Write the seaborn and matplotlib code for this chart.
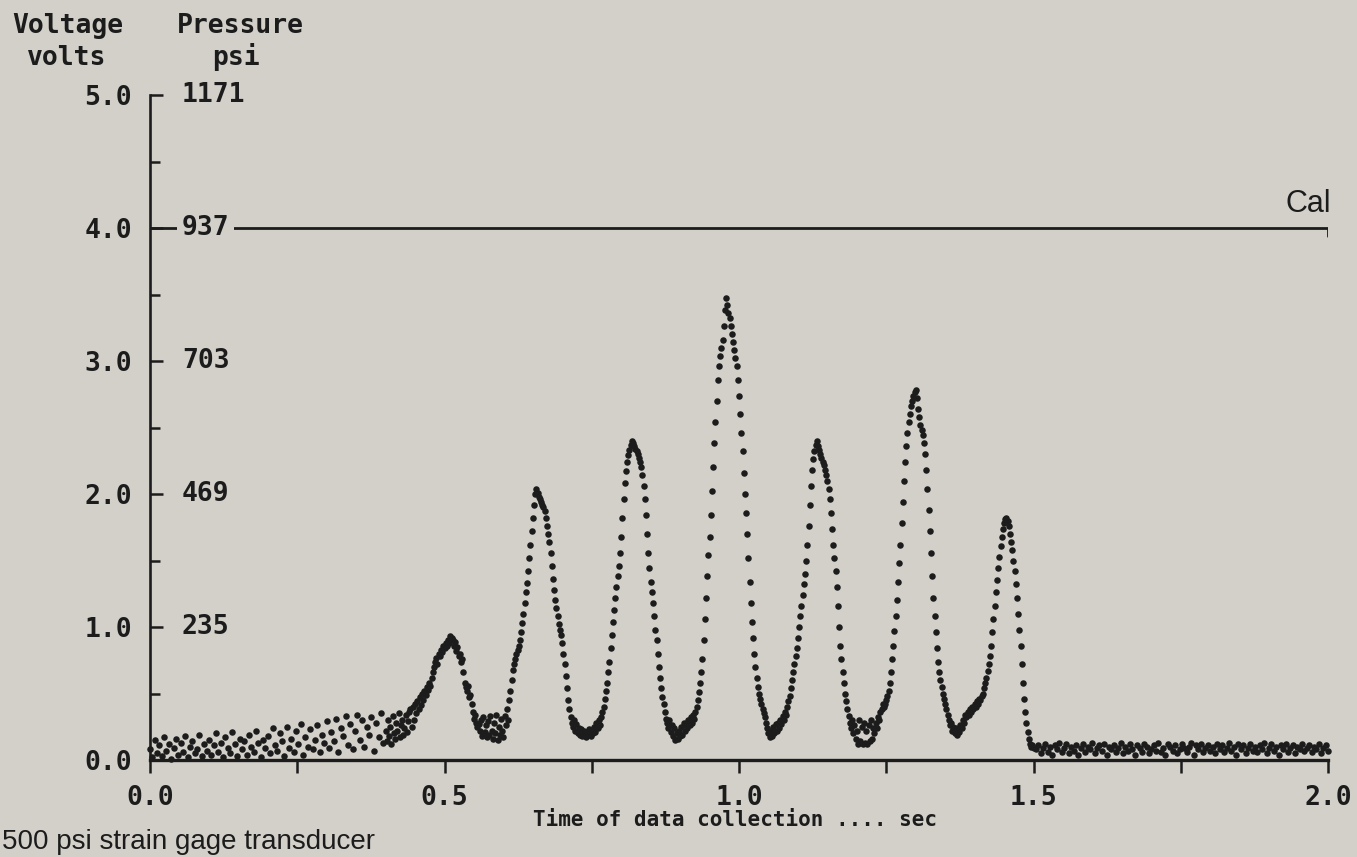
import numpy as np
import pandas as pd
import matplotlib
matplotlib.use("Agg")
import matplotlib.pyplot as plt
from matplotlib.ticker import MultipleLocator, FormatStrFormatter
import seaborn as sns

# ---------------------------------------------------------------------------
# Transducer record: voltage samples (volts)
# ---------------------------------------------------------------------------
# quiet lead-in, one sample every 4 ms from t = 0.000 s
lead_start, lead_step = 0.000, 0.004
lead_volts = [
    0.08, 0.02, 0.15, 0.05, 0.11, 0.03, 0.17, 0.07, 0.12, 0.01, 0.09, 0.16, 0.04,
    0.13, 0.06, 0.18, 0.02, 0.10, 0.14, 0.05, 0.08, 0.19, 0.03, 0.12, 0.07,
    0.15, 0.04, 0.11, 0.20, 0.06, 0.13, 0.02, 0.17, 0.09, 0.05, 0.21, 0.12, 0.03,
    0.16, 0.08, 0.14, 0.04, 0.19, 0.10, 0.06, 0.22, 0.13, 0.02, 0.15, 0.09,
    0.18, 0.05, 0.24, 0.11, 0.07, 0.20, 0.14, 0.03, 0.25, 0.09, 0.16, 0.06, 0.22,
    0.12, 0.27, 0.04, 0.17, 0.10, 0.23, 0.08, 0.15, 0.26, 0.06, 0.19, 0.13,
    0.29, 0.09, 0.21, 0.14, 0.31, 0.06, 0.24, 0.18, 0.33, 0.11, 0.27, 0.08, 0.22,
    0.34, 0.15, 0.30, 0.10, 0.25, 0.19, 0.32, 0.07, 0.28, 0.17, 0.35, 0.13,
]

# pressure pulses, one sample every 2 ms
pulse_step = 0.002
pulse1_start = 0.400
pulse1_volts = [
    0.22, 0.14, 0.30, 0.18, 0.25, 0.12, 0.33, 0.20, 0.16, 0.28, 0.22, 0.35, 0.17,
    0.26, 0.30, 0.19, 0.24, 0.34, 0.21, 0.29, 0.36,
    0.38, 0.25, 0.40, 0.30, 0.42, 0.35, 0.44, 0.38, 0.47, 0.41, 0.50, 0.45, 0.52,
    0.49, 0.55, 0.53, 0.58, 0.56, 0.62, 0.66, 0.70, 0.74, 0.77, 0.72, 0.80, 0.78,
    0.83, 0.81, 0.86, 0.84, 0.88, 0.86, 0.90, 0.88, 0.93,
    0.92, 0.90, 0.86, 0.89, 0.82, 0.85, 0.78, 0.80, 0.74, 0.76, 0.66, 0.58, 0.55,
    0.52, 0.56, 0.47, 0.49, 0.42, 0.36, 0.31, 0.34, 0.28, 0.25, 0.27, 0.22, 0.30,
    0.18, 0.32, 0.21, 0.26, 0.17, 0.29, 0.19, 0.33, 0.22,
    0.16, 0.28, 0.20, 0.34, 0.15, 0.25, 0.19, 0.31, 0.22, 0.17, 0.33, 0.26, 0.38,
    0.30, 0.45,
]
pulse2_start = 0.612
pulse2_volts = [
    0.52, 0.60, 0.68, 0.72, 0.76, 0.80, 0.83, 0.86, 0.90, 0.96, 1.03, 1.10, 1.18,
    1.26, 1.33, 1.42, 1.52, 1.62, 1.72, 1.82, 1.92, 2.00, 2.04, 2.01, 1.98,
    1.96, 1.94, 1.92, 1.90, 1.87, 1.82, 1.76, 1.70, 1.64, 1.56, 1.46, 1.36, 1.28,
    1.20, 1.14, 1.08, 1.02, 0.98, 0.94, 0.88, 0.80, 0.72, 0.63, 0.54, 0.45, 0.38,
    0.32, 0.28,
    0.25, 0.30, 0.22, 0.27, 0.20, 0.24, 0.19, 0.23, 0.18, 0.22, 0.20, 0.17, 0.21,
    0.19, 0.23, 0.18, 0.22, 0.20, 0.25, 0.21, 0.28, 0.24, 0.30, 0.26, 0.32,
]
pulse3_start = 0.768
pulse3_volts = [
    0.36, 0.40, 0.46, 0.52, 0.58, 0.66, 0.74, 0.84, 0.94, 1.04, 1.13, 1.22, 1.30,
    1.38, 1.46, 1.56, 1.68, 1.82, 1.96, 2.08, 2.17, 2.24, 2.29, 2.33, 2.37, 2.40,
    2.38,
    2.36, 2.34, 2.32, 2.30, 2.27, 2.24, 2.20, 2.14, 2.06, 1.96, 1.84, 1.70, 1.56,
    1.44, 1.34, 1.26, 1.18, 1.08, 0.98, 0.90, 0.80, 0.70, 0.62, 0.54, 0.47, 0.42,
    0.36, 0.31, 0.28,
    0.24, 0.30, 0.21, 0.26, 0.18, 0.24, 0.15, 0.20, 0.16, 0.22, 0.18, 0.25, 0.19,
    0.28, 0.22, 0.26, 0.24, 0.30, 0.26, 0.32, 0.28, 0.34, 0.31, 0.36,
]
pulse4_start = 0.928
pulse4_volts = [
    0.40, 0.45, 0.51, 0.58, 0.66, 0.76, 0.90, 1.06, 1.22, 1.38, 1.54, 1.68, 1.84,
    2.02, 2.20, 2.38, 2.54, 2.70, 2.86, 2.96, 3.04, 3.10, 3.16, 3.26, 3.38, 3.47,
    3.42,
    3.36, 3.32, 3.26, 3.20, 3.14, 3.08, 3.02, 2.96, 2.86, 2.74, 2.60, 2.46, 2.32,
    2.16, 2.00, 1.86, 1.70, 1.52, 1.34, 1.18, 1.04, 0.92, 0.80, 0.70, 0.62, 0.55,
    0.50, 0.46, 0.42, 0.38, 0.35, 0.32, 0.28,
    0.24, 0.20, 0.17, 0.22, 0.18, 0.25, 0.20, 0.27, 0.22, 0.28, 0.24, 0.30, 0.27,
    0.33, 0.30, 0.36, 0.34, 0.40,
]
pulse5_start = 1.084
pulse5_volts = [
    0.44, 0.48, 0.54, 0.60, 0.66, 0.72, 0.78, 0.84, 0.92, 1.00, 1.08, 1.16, 1.24,
    1.32, 1.40, 1.50, 1.62, 1.76, 1.92, 2.06, 2.18, 2.26, 2.32, 2.37, 2.40, 2.36,
    2.33, 2.30, 2.27, 2.24, 2.22, 2.18, 2.14, 2.10, 2.04, 1.96, 1.86, 1.74, 1.62,
    1.52, 1.42, 1.30, 1.16, 1.00, 0.86, 0.76, 0.66, 0.58, 0.50, 0.44, 0.38, 0.33,
    0.28, 0.24, 0.30, 0.20, 0.26, 0.16, 0.22, 0.12, 0.30, 0.14, 0.25, 0.12, 0.28,
    0.13, 0.22, 0.12, 0.26, 0.14, 0.30, 0.16, 0.24, 0.20, 0.28, 0.24, 0.32, 0.30,
    0.36, 0.38, 0.42,
]
pulse6_start = 1.246
pulse6_volts = [
    0.40, 0.42, 0.45, 0.48, 0.52, 0.58, 0.66, 0.76, 0.86, 0.97, 1.08, 1.20, 1.34,
    1.48, 1.62, 1.78, 1.94, 2.10, 2.24, 2.36, 2.46, 2.54, 2.60, 2.66, 2.70, 2.74,
    2.77, 2.78, 2.72,
    2.64, 2.58, 2.52, 2.48, 2.44, 2.38, 2.30, 2.18, 2.04, 1.88, 1.72, 1.56, 1.38,
    1.22, 1.08, 0.96, 0.84, 0.74, 0.66, 0.60, 0.55, 0.50, 0.46, 0.42, 0.38, 0.34,
    0.30, 0.26, 0.28, 0.22, 0.25, 0.20, 0.24, 0.19, 0.23, 0.21, 0.26, 0.24, 0.30,
    0.28, 0.34,
]
pulse7_start = 1.386
pulse7_volts = [
    0.32, 0.36, 0.34, 0.38, 0.36, 0.40, 0.38, 0.42, 0.40, 0.44, 0.42, 0.46, 0.45,
    0.48, 0.50, 0.54, 0.58, 0.62, 0.67, 0.72, 0.78, 0.86, 0.96, 1.06, 1.16, 1.26,
    1.35, 1.44, 1.53, 1.61, 1.68, 1.74, 1.78, 1.81, 1.82, 1.80,
    1.76, 1.70, 1.64, 1.58, 1.50, 1.42, 1.32, 1.22, 1.10, 0.98, 0.86, 0.72, 0.58,
    0.46, 0.36, 0.28, 0.21, 0.16, 0.12, 0.10, 0.11, 0.09,
]

# settled tail, one sample every 4 ms from t = 1.504 s
tail_start, tail_step = 1.504, 0.004
tail_volts = [
    0.08, 0.11, 0.05, 0.09, 0.12, 0.06, 0.10, 0.04, 0.11, 0.08, 0.13, 0.06, 0.09,
    0.12, 0.05, 0.10, 0.07, 0.11, 0.04, 0.09, 0.12, 0.06, 0.10, 0.08, 0.13,
    0.05, 0.09, 0.11, 0.07, 0.12, 0.04, 0.10, 0.08, 0.11, 0.06, 0.09, 0.13, 0.05,
    0.10, 0.07, 0.12, 0.08, 0.04, 0.11, 0.09, 0.06, 0.12, 0.10, 0.05, 0.08,
    0.11, 0.07, 0.13, 0.06, 0.09, 0.04, 0.12, 0.10, 0.07, 0.11, 0.05, 0.08, 0.12,
    0.09, 0.06, 0.10, 0.13, 0.04, 0.11, 0.08, 0.12, 0.06, 0.09, 0.11, 0.07,
    0.10, 0.05, 0.12, 0.08, 0.11, 0.06, 0.09, 0.13, 0.07, 0.10, 0.04, 0.12, 0.08,
    0.11, 0.05, 0.09, 0.12, 0.07, 0.10, 0.06, 0.11, 0.08, 0.13, 0.05, 0.09,
    0.12, 0.07, 0.10, 0.04, 0.11, 0.08, 0.12, 0.06, 0.09, 0.11, 0.05, 0.10, 0.08,
    0.12, 0.07, 0.09, 0.11, 0.06, 0.10, 0.08, 0.12, 0.05, 0.09, 0.11, 0.07,
]

# calibration step and the dual axis scale
cal_level = 4.0
cal_span = [0.0, 2.0]
volt_ticks = [5.0, 4.0, 3.0, 2.0, 1.0, 0.0]
psi_labels = ["1171", "937", "703", "469", "235"]

# ---------------------------------------------------------------------------
segments = [
    (lead_start, lead_step, lead_volts),
    (pulse1_start, pulse_step, pulse1_volts),
    (pulse2_start, pulse_step, pulse2_volts),
    (pulse3_start, pulse_step, pulse3_volts),
    (pulse4_start, pulse_step, pulse4_volts),
    (pulse5_start, pulse_step, pulse5_volts),
    (pulse6_start, pulse_step, pulse6_volts),
    (pulse7_start, pulse_step, pulse7_volts),
    (tail_start, tail_step, tail_volts),
]
frames = []
for start, step, volts in segments:
    t = start + step * np.arange(len(volts))
    frames.append(pd.DataFrame({"time": t, "volts": volts}))
record = pd.concat(frames, ignore_index=True)

sns.set_theme(style="ticks")
plt.rcParams["font.family"] = ["DejaVu Sans Mono"]
plt.rcParams["font.weight"] = "bold"

paper = "#d3d0ca"
ink = "#1c1c1c"
W, H = 1357, 857

fig = plt.figure(figsize=(W / 100, H / 100), dpi=100, facecolor=paper)
ax = fig.add_axes([150 / W, (H - 760) / H, 1178 / W, 665 / H])
ax.set_facecolor(paper)

sns.scatterplot(data=record, x="time", y="volts", ax=ax, color=ink, s=22,
                linewidth=0, legend=False, clip_on=False, zorder=3)

# calibration line with a short drop at its end
sns.lineplot(x=[cal_span[0], cal_span[1], cal_span[1]],
             y=[cal_level, cal_level, cal_level - 0.06],
             sort=False, estimator=None, ax=ax, color=ink, lw=2.0, zorder=2)

ax.set_xlim(0, 2.0)
ax.set_ylim(0, 5.0)
sns.despine(ax=ax)
for side, lw in (("left", 1.9), ("bottom", 2.4)):
    ax.spines[side].set_linewidth(lw)
    ax.spines[side].set_color(ink)

ax.xaxis.set_major_locator(MultipleLocator(0.5))
ax.xaxis.set_minor_locator(MultipleLocator(0.25))
ax.xaxis.set_major_formatter(FormatStrFormatter("%.1f"))
ax.tick_params(axis="x", which="both", direction="out", length=9, width=1.8,
               color=ink, labelcolor=ink, labelsize=19, pad=9)

ax.set_yticks(volt_ticks)
ax.yaxis.set_minor_locator(MultipleLocator(0.5))
ax.yaxis.set_major_formatter(FormatStrFormatter("%.1f"))
ax.tick_params(axis="y", which="major", direction="in", length=9, width=1.8,
               color=ink, labelcolor=ink, labelsize=19, pad=13)
ax.tick_params(axis="y", which="minor", direction="in", length=7, width=1.8,
               color=ink)
ax.set_xlabel("")
ax.set_ylabel("")

# pressure scale written just inside the voltage axis
for v, lab in zip(volt_ticks, psi_labels):
    box = None
    if v == cal_level:
        box = dict(boxstyle="square,pad=0.18", facecolor=paper, edgecolor="none")
    ax.annotate(lab, xy=(0, v), xycoords=("axes fraction", "data"),
                xytext=(23, 0), textcoords="offset points", ha="left",
                va="center", fontsize=19, color=ink, bbox=box, zorder=4,
                annotation_clip=False)

def fig_text(x, y, s, **kw):
    fig.text(x / W, 1 - y / H, s, color=ink, **kw)

fig_text(12, 33, "Voltage", fontsize=19, va="baseline")
fig_text(27, 65, "volts", fontsize=19, va="baseline")
fig_text(177, 33, "Pressure", fontsize=19, va="baseline")
fig_text(212, 65, "psi", fontsize=19, va="baseline")
fig_text(735, 826, "Time of data collection .... sec", fontsize=15,
         ha="center", va="baseline")
fig_text(1331, 212, "Cal", fontsize=22, ha="right", va="baseline",
         family="Liberation Sans", weight="normal")
fig_text(2, 849, "500 psi strain gage transducer", fontsize=20, ha="left",
         va="baseline", family="Liberation Sans", weight="normal")

fig.savefig("out.png", dpi=100, facecolor=paper)
